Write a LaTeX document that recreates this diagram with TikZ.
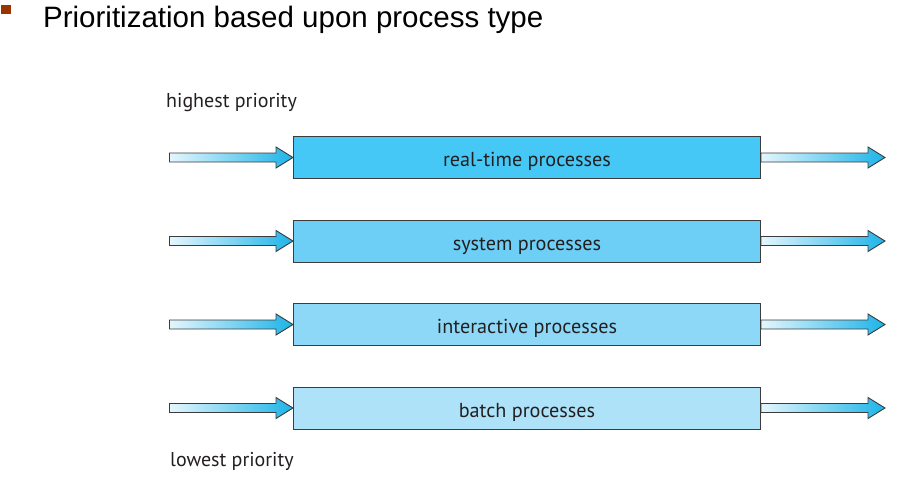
\documentclass[tikz,border=0pt]{standalone}
\usepackage{fontspec}
\setmainfont{PT Sans}
\newfontfamily\titlefont{Liberation Sans}
\usetikzlibrary{calc}

\definecolor{boxA}{HTML}{45C8F5}
\definecolor{boxB}{HTML}{6DCFF6}
\definecolor{boxC}{HTML}{8DD8F7}
\definecolor{boxD}{HTML}{ADE2F9}
\definecolor{headcol}{HTML}{1DB4E8}
\definecolor{shaftcol}{HTML}{E4F6FD}
\definecolor{edgecol}{HTML}{3C3C3C}
\definecolor{textcol}{HTML}{231F20}
\definecolor{bulletcol}{HTML}{993300}

\tikzset{
	procbox/.style={draw=edgecol,line width=1pt,minimum width=467pt,minimum height=42pt,inner sep=0pt,text height=18pt,text depth=0pt,font=\fontsize{20.2}{24}\selectfont,text=textcol},
	arrowshade/.style={draw=edgecol,line width=0.9pt,left color=shaftcol,right color=headcol},
	sidelabel/.style={anchor=base west,inner sep=0pt,font=\fontsize{20}{24}\selectfont,text=textcol}
}

\newcommand{\blockarrow}[2]{%
	\draw[arrowshade] ($(#1)+(0,-4.5)$) -- ($(#2)+(-17,-4.5)$) -- ($(#2)+(-17,-10.5)$) -- (#2)
		-- ($(#2)+(-17,10.5)$) -- ($(#2)+(-17,4.5)$) -- ($(#1)+(0,4.5)$) -- cycle;}

\begin{document}
\begin{tikzpicture}[x=1pt,y=-1pt]
	\useasboundingbox (0,0) rectangle (915,477);
	
	\fill[bulletcol] (1,5) rectangle (11,14);
	\node (title) [anchor=base west,inner sep=0pt,font=\titlefont\fontsize{29.5}{33}\selectfont] at (43,27) {Prioritization based upon process type};
	
	\foreach \t/\c [count=\i] in {real-time processes/boxA,system processes/boxB,interactive processes/boxC,batch processes/boxD}{
		\node (box\i) [procbox,fill=\c] at (527,157.5+83.5*\i-83.5) {\t};
		\coordinate (in\i) at (169.5,157.5+83.5*\i-83.5);
		\coordinate (out\i) at (885,157.5+83.5*\i-83.5);
	}
	
	\foreach \i in {1,...,4}{
		\blockarrow{in\i}{box\i.west}
		\blockarrow{box\i.east}{out\i}
	}
	
	\node (high) [sidelabel] at (166,107) {highest priority};
	\node (low) [sidelabel] at (170,466) {lowest priority};
\end{tikzpicture}
\end{document}
